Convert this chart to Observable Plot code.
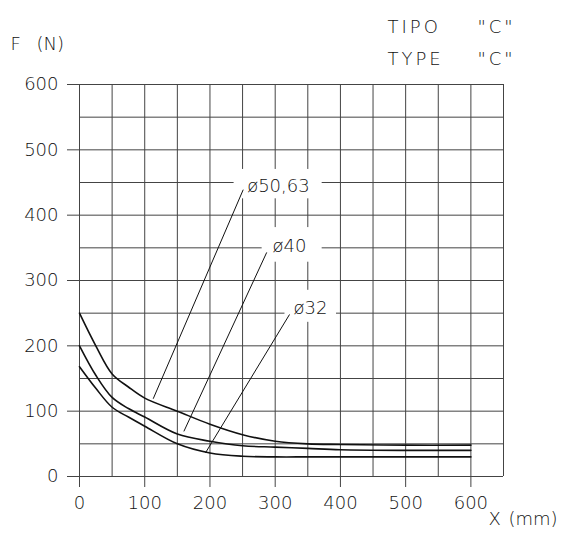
<!DOCTYPE html>
<html><head><meta charset="utf-8">
<script src="https://cdn.jsdelivr.net/npm/d3@7"></script>
<script src="https://cdn.jsdelivr.net/npm/@observablehq/plot@0.6"></script>
<style>body{margin:0;background:#fff} svg{display:block} svg text{font-weight:300}</style>
</head><body><div id="chart"></div>
<script>
// grid and tick values
const xGrid = [0,50,100,150,200,250,300,350,400,450,500,550,600,650];
const yGrid = [0,50,100,150,200,250,300,350,400,450,500,550,600];
const xTicks = [0,100,200,300,400,500,600];
const yTicks = [0,100,200,300,400,500,600];

// curves: F (N) vs X (mm)
const xPos   = [0,25,50,75,100,150,200,250,300,350,400,500,600];
const f5063  = [250,200,157,137,120,100,80,64,54,50,49,48,48];
const f40    = [200,155,121,104,91,65,54,47,45,43,41,40,40];
const f32    = [168,135,106,91,77,50,36,31,30,30,30,30,30];

// annotation labels
const labelNames = ["ø50,63","ø40","ø32"];
const labelX = [257,296,328];
const labelY = [445,352,258];
const leaderFrom = [[251,439],[287,343],[322,248]];
const leaderTo   = [[113,119],[160,69],[193,36]];
const boxX = [[237,372],[280,372],[315,394]];
const boxY = [[425,470],[328,381],[236,285]];

const series = [["ø50,63", f5063], ["ø40", f40], ["ø32", f32]];
const rows = series.flatMap(([name, vals]) => xPos.map((x, i) => ({name, x, y: vals[i]})));
const labels = labelNames.map((t, i) => ({t, x: labelX[i], y: labelY[i]}));
const leaders = labelNames.map((t, i) => ({x1: leaderFrom[i][0], y1: leaderFrom[i][1], x2: leaderTo[i][0], y2: leaderTo[i][1]}));
const boxes = labelNames.map((t, i) => ({x1: boxX[i][0], x2: boxX[i][1], y1: boxY[i][0], y2: boxY[i][1]}));

const font = "DejaVu Sans";
const gridColor = "#444";
const textColor = "#111";

const chart = Plot.plot({
  width: 570, height: 540,
  marginLeft: 79, marginRight: 67, marginTop: 84, marginBottom: 64,
  style: {fontFamily: font, fontSize: "18px", color: textColor, background: "#fff"},
  x: {domain: [0, 650]},
  y: {domain: [0, 600]},
  marks: [
    Plot.ruleX(xGrid, {stroke: gridColor, strokeWidth: 1}),
    Plot.ruleY(yGrid, {stroke: gridColor, strokeWidth: 1}),
    Plot.axisX(xTicks, {tickSize: 11, tickPadding: 9, label: null, fontSize: 18, tickFormat: d => String(d), stroke: gridColor}),
    Plot.axisY(yTicks, {tickSize: 12, tickPadding: 9, label: null, fontSize: 18, tickFormat: d => String(d), stroke: gridColor}),
    Plot.rect(boxes, {x1: "x1", x2: "x2", y1: "y1", y2: "y2", fill: "white"}),
    Plot.line(rows, {x: "x", y: "y", z: "name", curve: "catmull-rom", stroke: "#111", strokeWidth: 1.6}),
    Plot.link(leaders, {x1: "x1", y1: "y1", x2: "x2", y2: "y2", stroke: "#111", strokeWidth: 1}),
    Plot.text(labels, {x: "x", y: "y", text: "t", textAnchor: "start", fontSize: 18, fill: textColor}),
    Plot.text(["F"], {frameAnchor: "top-left", dx: -69, dy: -47, textAnchor: "start", fontSize: 18, fill: textColor}),
    Plot.text(["(N)"], {frameAnchor: "top-left", dx: -43, dy: -47, textAnchor: "start", fontSize: 18, fill: textColor}),
    Plot.text(["TIPO"], {frameAnchor: "top-right", dx: -116, dy: -64, textAnchor: "start", fontSize: 18, fill: textColor}),
    Plot.text(["\"C\""], {frameAnchor: "top-right", dx: -26, dy: -64, textAnchor: "start", fontSize: 18, fill: textColor}),
    Plot.text(["TYPE"], {frameAnchor: "top-right", dx: -116, dy: -32, textAnchor: "start", fontSize: 18, fill: textColor}),
    Plot.text(["\"C\""], {frameAnchor: "top-right", dx: -26, dy: -32, textAnchor: "start", fontSize: 18, fill: textColor}),
    Plot.text(["X"], {frameAnchor: "bottom-right", dx: -15, dy: 48, textAnchor: "start", fontSize: 18, fill: textColor}),
    Plot.text(["(mm)"], {frameAnchor: "bottom-right", dx: 5, dy: 48, textAnchor: "start", fontSize: 18, fill: textColor})
  ]
});
// widen the title words like the drafting font of the original
d3.select(chart).selectAll("text").filter(function() {
  return ["TIPO", "TYPE", "\"C\""].includes(this.textContent);
}).attr("letter-spacing", "3px");
document.getElementById("chart").append(chart);
</script>
</body></html>
